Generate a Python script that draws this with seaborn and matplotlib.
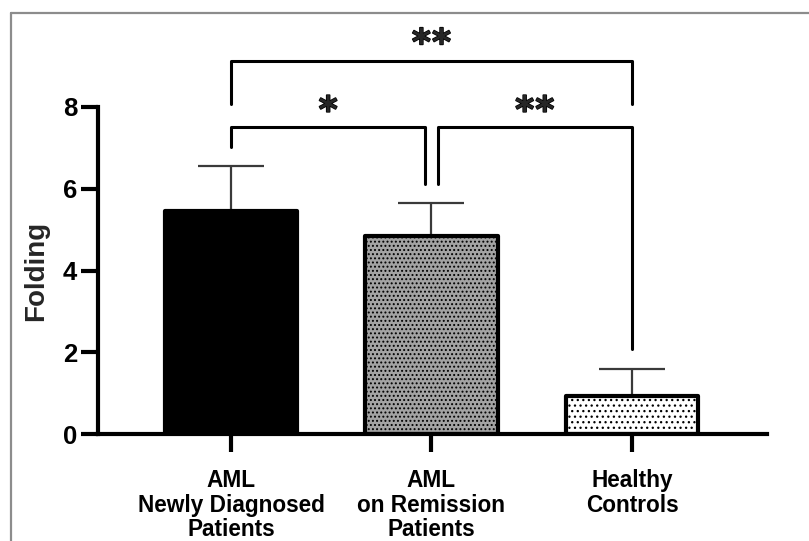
import matplotlib
matplotlib.use("Agg")
import matplotlib.pyplot as plt
import matplotlib.patheffects as pe
import seaborn as sns
import pandas as pd
import numpy as np
from matplotlib.lines import Line2D

# ---- data ----
categories = ["AML\nNewly Diagnosed\nPatients", "AML\non Remission\nPatients", "Healthy\nControls"]
means = [5.45, 4.84, 0.92]
sems = [1.10, 0.81, 0.68]
yticks = [0, 2, 4, 6, 8]
ylabel = "Folding"
# comparisons: (group a, group b, label)
comparisons = [(0, 1, "*"), (1, 2, "**"), (0, 2, "**")]

sns.set_theme(style="ticks")
plt.rcParams['font.family'] = ['Liberation Sans', 'DejaVu Sans']
plt.rcParams['hatch.linewidth'] = 0.9

fig = plt.figure(figsize=(8.09, 5.41), dpi=100)
W, H = 809, 541
ax = fig.add_axes([98 / W, 1 - 434 / H, (767 - 98) / W, (434 - 107) / H])

df = pd.DataFrame({"group": categories, "value": means})
sns.barplot(data=df, x="group", y="value", hue="group",
            palette=["#000000", "#a3a3a3", "#ffffff"], edgecolor="black",
            linewidth=3, width=0.66, legend=False, ax=ax, errorbar=None)
hatches = [None, "....", "..."]
for p, h in zip(ax.patches, hatches):
    p.set_joinstyle("round")
    p.set_zorder(2)
    if h:
        p.set_hatch(h)

x = np.arange(len(categories))
eb = ax.errorbar(x, means, yerr=[np.zeros(len(means)), sems], fmt="none",
                 ecolor="#3a3a3a", elinewidth=1.6, capsize=24, capthick=1.6, zorder=1)
# show only the upper caps
eb[1][0].set_visible(False)

ax.set_ylim(0, 8)
ax.set_xlim(-0.663, 2.673)
ax.set_yticks(yticks)
ax.set_yticklabels([str(t) for t in yticks], fontsize=18.5, fontweight="bold")
ax.set_xticks(x)
ax.set_xticklabels(categories, fontsize=16.3, fontweight="bold", linespacing=1.1)
ax.set_xlabel("")
ax.set_ylabel(ylabel, fontsize=20, fontweight="bold", labelpad=10)
for s in ["top", "right"]:
    ax.spines[s].set_visible(False)
for s in ["left", "bottom"]:
    ax.spines[s].set_linewidth(3)
    ax.spines[s].set_color("black")
ax.tick_params(axis="y", length=12, width=3, pad=3, colors="black")
ax.tick_params(axis="x", length=13, width=3, pad=12, colors="black")

# ---- significance brackets ----
tops = [m + s for m, s in zip(means, sems)]
gap = 0.47
lw_b = 2.2
def bracket(xa, xb, ya, yb, yh):
    ax.plot([xa, xa, xb, xb], [ya, yh, yh, yb], color="black", lw=lw_b,
            clip_on=False, solid_joinstyle="round", solid_capstyle="round")

star_kw = dict(ha="center", va="center", fontsize=26, fontweight="bold",
               family="DejaVu Sans", annotation_clip=False,
               textcoords="offset points",
               path_effects=[pe.withStroke(linewidth=1.1, foreground="black")])

def stars(xc, yc, label):
    n = len(label)
    for i, ch in enumerate(label):
        dx = (i - (n - 1) / 2) * 14.5
        ax.annotate(ch, (xc, yc), xytext=(dx, 0), **star_kw)

low_h = 7.51
top_h = 9.12
split = 0.03
# 0 vs 1
bracket(0, 1 - split, tops[0] + gap, tops[1] + gap, low_h)
stars((0 + 1 - split) / 2, 7.88, comparisons[0][2])
# 1 vs 2
bracket(1 + split, 2, tops[1] + gap, tops[2] + gap, low_h)
stars((1 + split + 2) / 2, 7.88, comparisons[1][2])
# 0 vs 2
bracket(0, 2, 8.07, 8.07, top_h)
stars(1, 9.53, comparisons[2][2])

# ---- outer gray frame (partial) ----
fig.add_artist(Line2D([11 / W, 1], [1 - 13 / H, 1 - 13 / H], color="#8c8c8c", lw=1.6,
                      transform=fig.transFigure))
fig.add_artist(Line2D([11 / W, 11 / W], [0, 1 - 13 / H], color="#8c8c8c", lw=1.6,
                      transform=fig.transFigure))

fig.savefig("out.png", dpi=100)
